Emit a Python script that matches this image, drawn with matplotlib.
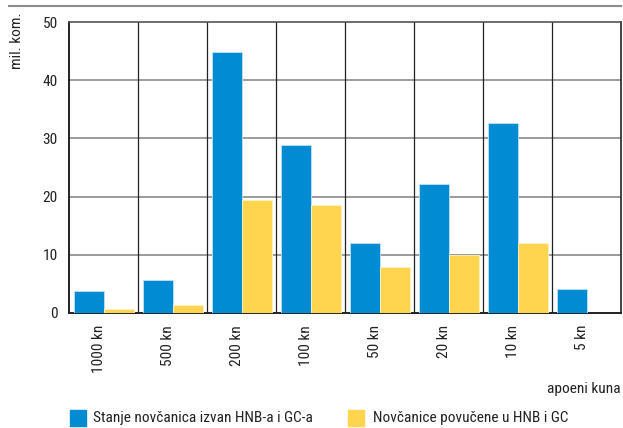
import numpy as np
import matplotlib.pyplot as plt
from matplotlib import font_manager
from matplotlib.lines import Line2D
from matplotlib.patches import Rectangle

# apoeni i vrijednosti (mil. kom.)
denominations = ['1000 kn', '500 kn', '200 kn', '100 kn', '50 kn', '20 kn', '10 kn', '5 kn']
outside = [3.8, 5.7, 44.9, 28.9, 12.1, 22.2, 32.6, 4.2]
withdrawn = [0.7, 1.4, 19.4, 18.5, 7.85, 10.0, 12.0, 0.0]
series_names = ['Stanje novčanica izvan HNB-a i GC-a', 'Novčanice povučene u HNB i GC']

BLUE = '#008BD2'
YELLOW = '#FFD54F'
TXT = '#222222'

# uski font ako postoji
available = {f.name for f in font_manager.fontManager.ttflist}
narrow = [n for n in ['Liberation Sans Narrow', 'Arial Narrow', 'Roboto Condensed', 'Archivo Narrow',
                      'PT Sans Narrow'] if n in available]
if narrow:
    plt.rcParams['font.family'] = [narrow[0], 'DejaVu Sans']
    FS = 11.1
else:
    plt.rcParams['font.family'] = ['Liberation Sans', 'DejaVu Sans']
    FS = 10

fig = plt.figure(figsize=(6.23, 4.28), dpi=100)
W, H = 623, 428
ax = fig.add_axes([69 / W, 1 - 313 / H, 552 / W, 291 / H])

x = np.arange(len(denominations))
bw = 0.435
ax.bar(x - 0.21, outside, bw, color=BLUE, edgecolor='#bfe3f5', linewidth=0.6, zorder=3)
ax.bar(x + 0.225, withdrawn, bw, color=YELLOW, edgecolor='#fff3c4', linewidth=0.6, zorder=3)

ax.set_xlim(-0.5, len(denominations) - 0.5)
ax.set_ylim(0, 50)
ax.set_yticks(range(0, 51, 10))
ax.set_xticks(x - 0.07)
ax.set_xticklabels(denominations, rotation=90, va='top')
ax.tick_params(axis='both', length=0, labelsize=FS, colors=TXT)
ax.tick_params(axis='y', pad=8)
ax.tick_params(axis='x', pad=8.5)

# mreža
for yv in range(10, 50, 10):
    ax.axhline(yv, color='#8a8a8a', linewidth=1.2, zorder=1)
for xv in np.arange(0.5, len(denominations) - 0.5, 1):
    ax.axvline(xv, color=TXT, linewidth=0.9, zorder=1)

for side in ['left', 'bottom']:
    ax.spines[side].set_color(TXT)
    ax.spines[side].set_linewidth(1.4)
ax.spines['top'].set_color('#555555')
ax.spines['top'].set_linewidth(1.2)
ax.spines['right'].set_color(TXT)
ax.spines['right'].set_linewidth(1.2)

# gornja siva linija
fig.add_artist(Line2D([9 / W, 621 / W], [1 - 6 / H, 1 - 6 / H], color='#8c8c8c', linewidth=1.5))

fig.text(17 / W, 1 - 41 / H, 'mil. kom.', rotation=90, ha='center', va='center', fontsize=FS, color=TXT)
fig.text(621 / W, 1 - 389 / H, 'apoeni kuna', ha='right', va='center', fontsize=FS, color=TXT)

# legenda
for (lx, tx), col, name in zip([(70, 93), (348, 373)], [BLUE, YELLOW], series_names):
    fig.add_artist(Rectangle((lx / W, 1 - 426 / H), 16 / W, 16 / H, color=col, transform=fig.transFigure))
    fig.text(tx / W, 1 - 418 / H, name, ha='left', va='center', fontsize=FS, color=TXT)

plt.savefig('out.png', dpi=100)
